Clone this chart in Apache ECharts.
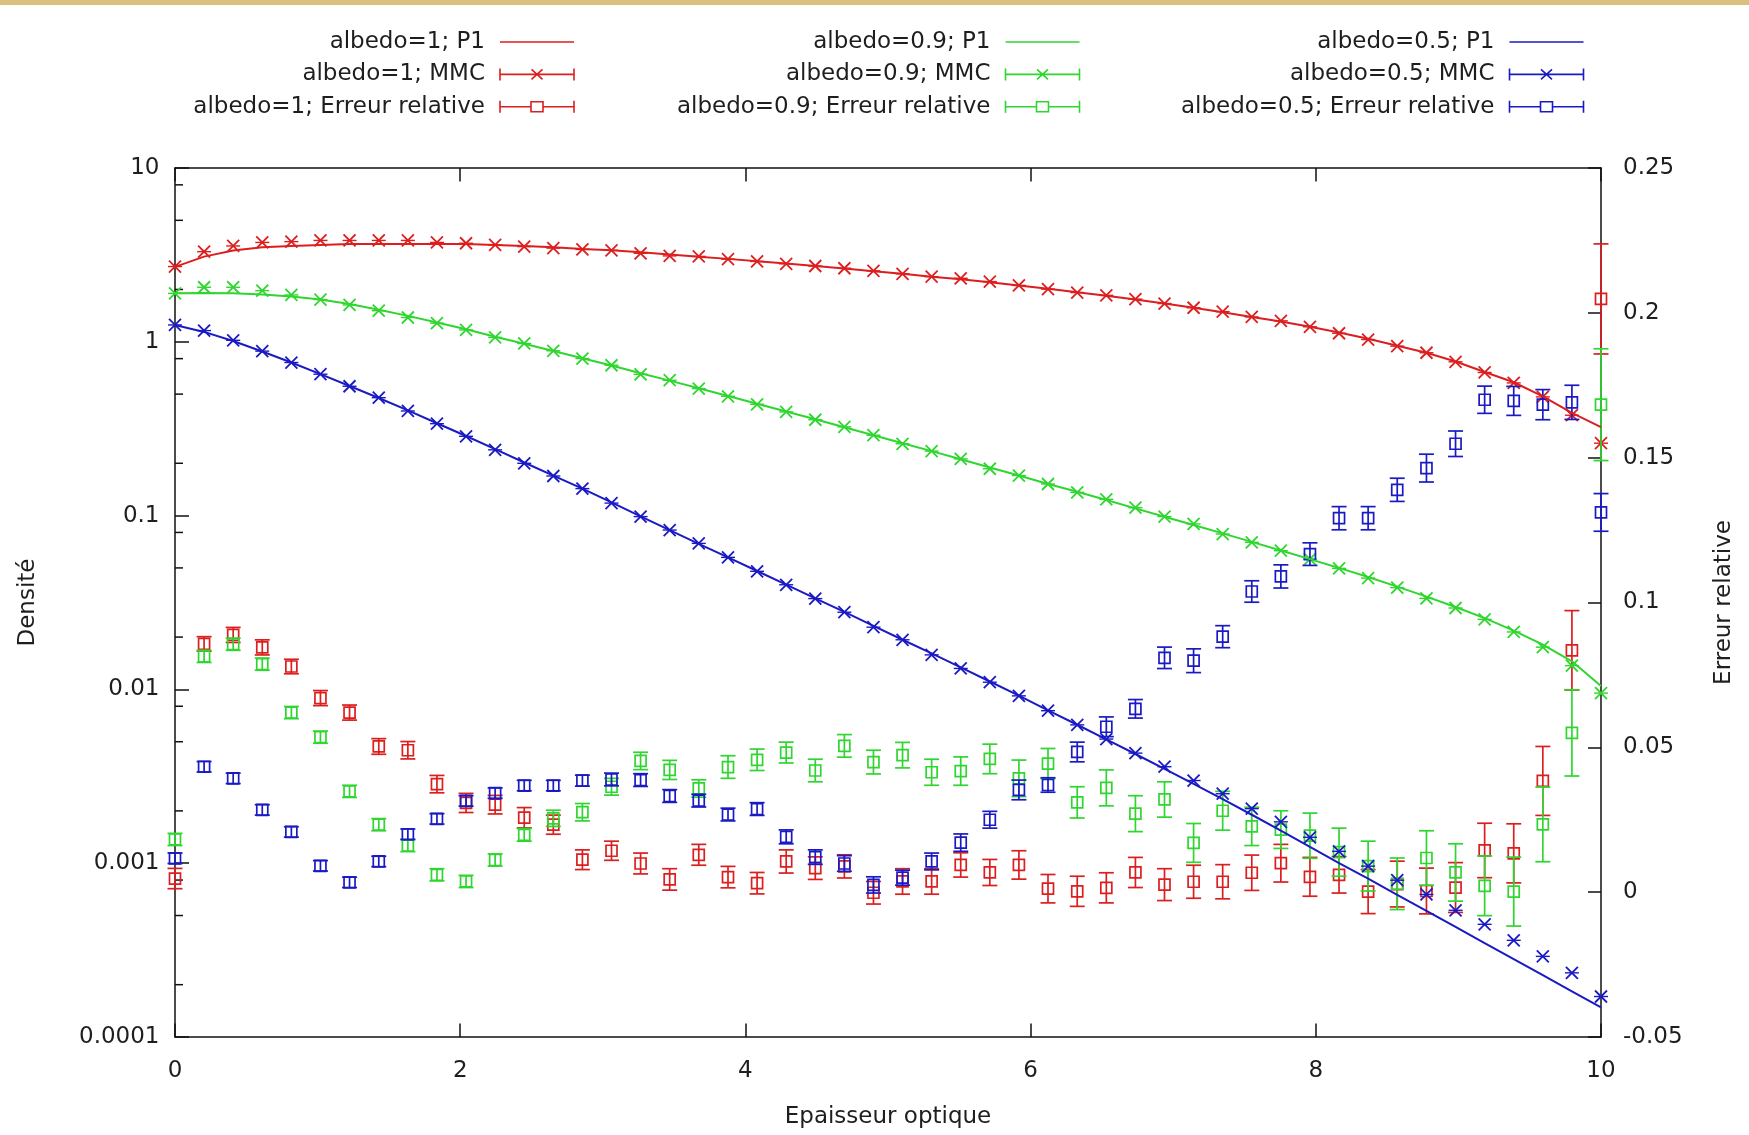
<!DOCTYPE html>
<html>
<head>
<meta charset="utf-8">
<title>Densité et erreur relative – P1 / MMC</title>
<script src="https://cdn.jsdelivr.net/npm/echarts@6/dist/echarts.min.js"></script>
<style>
  html, body { margin: 0; padding: 0; background: #ffffff; }
  #chart { width: 1749px; height: 1135px; }
</style>
</head>
<body>
<div id="chart"></div>
<script>
// Optical depth grid (50 cells from 0 to 10)
const tau = [0, 0.204, 0.408, 0.612, 0.816, 1.020, 1.224, 1.429, 1.633, 1.837,
  2.041, 2.245, 2.449, 2.653, 2.857, 3.061, 3.265, 3.469, 3.673, 3.878,
  4.082, 4.286, 4.490, 4.694, 4.898, 5.102, 5.306, 5.510, 5.714, 5.918,
  6.122, 6.327, 6.531, 6.735, 6.939, 7.143, 7.347, 7.551, 7.755, 7.959,
  8.163, 8.367, 8.571, 8.776, 8.980, 9.184, 9.388, 9.592, 9.796, 10];

// albedo = 1
const p1Albedo1 = [2.70, 3.09, 3.35, 3.50, 3.56, 3.61, 3.65, 3.65, 3.65, 3.65,
  3.65, 3.61, 3.56, 3.50, 3.42, 3.36, 3.27, 3.18, 3.09, 3.00,
  2.91, 2.82, 2.73, 2.64, 2.55, 2.46, 2.37, 2.29, 2.20, 2.11,
  2.02, 1.93, 1.84, 1.75, 1.66, 1.57, 1.48, 1.39, 1.31, 1.22,
  1.13, 1.04, 0.950, 0.865, 0.770, 0.670, 0.585, 0.485, 0.390, 0.323];
const mmcAlbedo1 = [2.71, 3.30, 3.56, 3.73, 3.77, 3.83, 3.83, 3.83, 3.83, 3.73,
  3.69, 3.61, 3.53, 3.46, 3.40, 3.36, 3.23, 3.12, 3.10, 2.99,
  2.90, 2.81, 2.73, 2.65, 2.56, 2.46, 2.37, 2.32, 2.22, 2.11,
  2.01, 1.92, 1.85, 1.76, 1.66, 1.57, 1.49, 1.39, 1.32, 1.22,
  1.12, 1.03, 0.944, 0.865, 0.767, 0.666, 0.580, 0.482, 0.378, 0.261];
const errAlbedo1 = [0.0047, 0.0857, 0.0888, 0.0845, 0.0779, 0.0670, 0.0620, 0.0503, 0.0490, 0.0373,
  0.0308, 0.0302, 0.0257, 0.0233, 0.0112, 0.0143, 0.0099, 0.0044, 0.0129, 0.0052,
  0.0031, 0.0106, 0.0083, 0.0089, -0.0002, 0.0037, 0.0037, 0.0094, 0.0068, 0.0094,
  0.0012, 0.0003, 0.0015, 0.0068, 0.0026, 0.0036, 0.0036, 0.0067, 0.0100, 0.0053,
  0.0060, 0.0002, 0.0028, 0.0004, 0.0016, 0.0144, 0.0134, 0.0384, 0.0835, 0.2048];
const errBarAlbedo1 = [0.0035, 0.0025, 0.0026, 0.0026, 0.0025, 0.0026, 0.0026, 0.0027, 0.0030, 0.0030,
  0.0033, 0.0032, 0.0035, 0.0033, 0.0034, 0.0033, 0.0036, 0.0037, 0.0036, 0.0037,
  0.0037, 0.0040, 0.0039, 0.0040, 0.0039, 0.0044, 0.0044, 0.0042, 0.0045, 0.0049,
  0.0049, 0.0052, 0.0052, 0.0052, 0.0055, 0.0057, 0.0059, 0.0061, 0.0065, 0.0067,
  0.0063, 0.0076, 0.0079, 0.0079, 0.0086, 0.0094, 0.0102, 0.0119, 0.0137, 0.0190];

// albedo = 0.9
const p1Albedo09 = [1.90, 1.91, 1.90, 1.87, 1.82, 1.75, 1.65, 1.53, 1.41, 1.29,
  1.18, 1.07, 0.975, 0.885, 0.805, 0.730, 0.660, 0.598, 0.540, 0.488,
  0.440, 0.397, 0.358, 0.322, 0.290, 0.261, 0.235, 0.211, 0.189, 0.170,
  0.152, 0.137, 0.123, 0.110, 0.0985, 0.0882, 0.0790, 0.0706, 0.0630, 0.0562,
  0.0500, 0.0443, 0.0390, 0.0342, 0.0298, 0.0257, 0.0218, 0.0181, 0.0145, 0.01045];
const mmcAlbedo09 = [1.90, 2.06, 2.06, 1.97, 1.86, 1.75, 1.63, 1.51, 1.38, 1.28,
  1.17, 1.06, 0.978, 0.888, 0.801, 0.733, 0.650, 0.601, 0.538, 0.486,
  0.437, 0.395, 0.356, 0.324, 0.290, 0.259, 0.235, 0.212, 0.186, 0.170,
  0.152, 0.136, 0.124, 0.111, 0.0987, 0.0895, 0.0783, 0.0702, 0.0628, 0.0562,
  0.0497, 0.0437, 0.0385, 0.0334, 0.0294, 0.0253, 0.0214, 0.0175, 0.0137, 0.00952];
const errAlbedo09 = [0.0182, 0.0814, 0.0856, 0.0787, 0.0620, 0.0535, 0.0348, 0.0233, 0.0161, 0.0060,
  0.0037, 0.0111, 0.0198, 0.0255, 0.0276, 0.0364, 0.0453, 0.0422, 0.0358, 0.0432,
  0.0457, 0.0482, 0.0420, 0.0505, 0.0449, 0.0473, 0.0414, 0.0418, 0.0460, 0.0393,
  0.0444, 0.0310, 0.0360, 0.0271, 0.0320, 0.0170, 0.0281, 0.0227, 0.0216, 0.0195,
  0.0138, 0.0090, 0.0029, 0.0118, 0.0068, 0.0022, 0.0002, 0.0234, 0.0550, 0.1683];
const errBarAlbedo09 = [0.0021, 0.0021, 0.0021, 0.0021, 0.0021, 0.0021, 0.0021, 0.0021, 0.0021, 0.0021,
  0.0021, 0.0021, 0.0022, 0.0028, 0.0030, 0.0029, 0.0030, 0.0033, 0.0030, 0.0039,
  0.0037, 0.0036, 0.0039, 0.0039, 0.0041, 0.0044, 0.0045, 0.0049, 0.0051, 0.0063,
  0.0052, 0.0054, 0.0062, 0.0062, 0.0061, 0.0067, 0.0067, 0.0066, 0.0065, 0.0078,
  0.0083, 0.0086, 0.0089, 0.0094, 0.0099, 0.0103, 0.0119, 0.0129, 0.0149, 0.0193];

// albedo = 0.5
const p1Albedo05 = [1.25, 1.14, 1.01, 0.880, 0.760, 0.652, 0.557, 0.475, 0.403, 0.340,
  0.287, 0.241, 0.202, 0.170, 0.143, 0.119, 0.0990, 0.0824, 0.0688, 0.0575,
  0.0480, 0.0401, 0.0334, 0.0279, 0.0232, 0.0193, 0.0161, 0.0134, 0.0111, 0.00921,
  0.00758, 0.00626, 0.00516, 0.00425, 0.00349, 0.00286, 0.00234, 0.00190, 0.00154, 0.00124,
  0.00100, 0.000814, 0.000658, 0.000532, 0.000430, 0.000347, 0.000281, 0.000227, 0.000183, 0.000148];
const mmcAlbedo05 = [1.25, 1.16, 1.02, 0.884, 0.760, 0.651, 0.555, 0.477, 0.400, 0.338,
  0.286, 0.239, 0.200, 0.169, 0.143, 0.118, 0.0987, 0.0826, 0.0692, 0.0575,
  0.0478, 0.0400, 0.0333, 0.0278, 0.0228, 0.0193, 0.0158, 0.0132, 0.0110, 0.00918,
  0.00754, 0.00625, 0.00518, 0.00430, 0.00359, 0.00299, 0.00251, 0.00206, 0.00173, 0.00141,
  0.00117, 0.000962, 0.000798, 0.000661, 0.000536, 0.000445, 0.000360, 0.000291, 0.000234, 0.000171];
const errAlbedo05 = [0.0117, 0.0433, 0.0393, 0.0284, 0.0208, 0.0091, 0.0034, 0.0106, 0.0200, 0.0253,
  0.0315, 0.0342, 0.0368, 0.0368, 0.0385, 0.0389, 0.0387, 0.0332, 0.0316, 0.0268,
  0.0287, 0.0191, 0.0121, 0.0099, 0.0025, 0.0050, 0.0106, 0.0171, 0.0250, 0.0353,
  0.0370, 0.0484, 0.0571, 0.0633, 0.0809, 0.0799, 0.0882, 0.1038, 0.1090, 0.1167,
  0.1291, 0.1291, 0.1389, 0.1464, 0.1548, 0.1700, 0.1696, 0.1683, 0.1691, 0.1311];
const errBarAlbedo05 = [0.0018, 0.0018, 0.0018, 0.0018, 0.0018, 0.0018, 0.0018, 0.0018, 0.0018, 0.0018,
  0.0018, 0.0018, 0.0018, 0.0018, 0.0019, 0.0022, 0.0022, 0.0022, 0.0022, 0.0022,
  0.0022, 0.0024, 0.0025, 0.0027, 0.0028, 0.0026, 0.0029, 0.0030, 0.0029, 0.0034,
  0.0025, 0.0034, 0.0034, 0.0032, 0.0037, 0.0041, 0.0038, 0.0037, 0.0040, 0.0039,
  0.0040, 0.0040, 0.0040, 0.0048, 0.0044, 0.0047, 0.0050, 0.0052, 0.0059, 0.0065];

// Axis ticks
const xTickValues = ['0', '2', '4', '6', '8', '10'];
const densityMinorTicks = [8, 5, 2, 0.8, 0.5, 0.2, 0.08, 0.05, 0.02,
  0.008, 0.005, 0.002, 0.0008, 0.0005, 0.0002];

const RED = '#dc1e1e';
const GREEN = '#2fd62f';
const BLUE = '#1a1ac4';
const FONT = 'DejaVu Sans';
const TEXT = '#1e1e1e';

const pairs = (ys) => tau.map((x, i) => [x, ys[i]]);
const triples = (ys, es) => tau.map((x, i) => [x, ys[i], es[i]]);

// Monte-Carlo estimate: cross marker with merged error-bar caps
function mmcItem(color) {
  return function (params, api) {
    const p = api.coord([api.value(0), api.value(1)]);
    const s = 6, w = 7;
    const st = { stroke: color, lineWidth: 1.8, fill: 'none' };
    return {
      type: 'group',
      children: [
        { type: 'line', shape: { x1: p[0] - s, y1: p[1] - s, x2: p[0] + s, y2: p[1] + s }, style: st },
        { type: 'line', shape: { x1: p[0] - s, y1: p[1] + s, x2: p[0] + s, y2: p[1] - s }, style: st },
        { type: 'line', shape: { x1: p[0] - w, y1: p[1], x2: p[0] + w, y2: p[1] }, style: { stroke: color, lineWidth: 1.4 } }
      ]
    };
  };
}

// Relative error: open square with vertical error bar and caps
function errItem(color) {
  return function (params, api) {
    const x = api.value(0), v = api.value(1), e = api.value(2);
    const c = api.coord([x, v]);
    const yTop = api.coord([x, v + e])[1];
    const yBot = api.coord([x, v - e])[1];
    const h = 5.5, cap = 7.5;
    const st = { stroke: color, lineWidth: 1.7, fill: 'none' };
    return {
      type: 'group',
      children: [
        { type: 'line', shape: { x1: c[0], y1: yTop, x2: c[0], y2: yBot }, style: st },
        { type: 'line', shape: { x1: c[0] - cap, y1: yTop, x2: c[0] + cap, y2: yTop }, style: st },
        { type: 'line', shape: { x1: c[0] - cap, y1: yBot, x2: c[0] + cap, y2: yBot }, style: st },
        { type: 'rect', shape: { x: c[0] - h, y: c[1] - h, width: 2 * h, height: 2 * h }, style: st }
      ]
    };
  };
}

// Short inward minor ticks on the log axis
function minorTickItem(params, api) {
  const p = api.coord([api.value(0), api.value(1)]);
  return { type: 'line', shape: { x1: p[0], y1: p[1], x2: p[0] + 8, y2: p[1] }, style: { stroke: '#111', lineWidth: 1.5 } };
}

const ICON_P1 = 'path://M0,0M85,16M10,8L84,8';
const ICON_MMC = 'path://M0,0M85,16M10,2L10,14M10,8L84,8M84,2L84,14M41.5,3L52.5,13M41.5,13L52.5,3';
const ICON_ERR = 'path://M0,0M85,16M10,2L10,14M10,8L41,8M53,8L84,8M84,2L84,14M41,3L53,3L53,13L41,13Z';

function legendBlock(label, color, right) {
  const st = { color: 'none', borderColor: color, borderWidth: 1.6 };
  return {
    orient: 'vertical',
    align: 'right',
    right: right,
    top: 30,
    padding: 0,
    itemGap: 8.4,
    itemWidth: 85,
    itemHeight: 16,
    selectedMode: false,
    textStyle: { fontFamily: FONT, fontSize: 23, color: TEXT, lineHeight: 24 },
    data: [
      { name: label + '; P1', icon: ICON_P1, itemStyle: st },
      { name: label + '; MMC', icon: ICON_MMC, itemStyle: st },
      { name: label + '; Erreur relative', icon: ICON_ERR, itemStyle: st }
    ]
  };
}

function groupSeries(label, color, p1, mmc, err, errBar) {
  return [
    {
      name: label + '; P1', type: 'line', xAxisIndex: 0, yAxisIndex: 0,
      data: pairs(p1), showSymbol: false, symbol: 'none',
      lineStyle: { color: color, width: 2 }, itemStyle: { color: color }
    },
    {
      name: label + '; MMC', type: 'custom', xAxisIndex: 0, yAxisIndex: 0,
      data: pairs(mmc), renderItem: mmcItem(color), itemStyle: { color: color },
      encode: { x: 0, y: 1 }
    },
    {
      name: label + '; Erreur relative', type: 'custom', xAxisIndex: 0, yAxisIndex: 1,
      data: triples(err, errBar), renderItem: errItem(color), itemStyle: { color: color },
      encode: { x: 0, y: 1 }
    }
  ];
}

const chart = echarts.init(document.getElementById('chart'), null, { renderer: 'canvas' });

const axisLabelStyle = { fontFamily: FONT, fontSize: 23, color: TEXT };
const axisLine = { show: true, onZero: false, lineStyle: { color: '#111', width: 1.5 } };
const tickStyle = { color: '#111', width: 1.5 };

chart.setOption({
  animation: false,
  backgroundColor: '#ffffff',
  textStyle: { fontFamily: FONT },
  graphic: [
    { type: 'rect', left: 0, top: 0, shape: { width: 1749, height: 5 }, style: { fill: '#dcbf7e' } }
  ],
  legend: [
    legendBlock('albedo=1', RED, 1171.5),
    legendBlock('albedo=0.9', GREEN, 666),
    legendBlock('albedo=0.5', BLUE, 162)
  ],
  grid: { left: 175, top: 168, width: 1426, height: 869, outerBoundsMode: 'none' },
  xAxis: [
    {
      type: 'value', position: 'bottom', min: 0, max: 10, interval: 2,
      name: 'Epaisseur optique', nameLocation: 'middle', nameGap: 69, nameMoveOverlap: false,
      nameTextStyle: { fontFamily: FONT, fontSize: 23, color: TEXT },
      axisLine: axisLine,
      axisTick: { show: true, inside: true, length: 13.5, lineStyle: tickStyle },
      axisLabel: Object.assign({ margin: 23, formatter: (v) => xTickValues[Math.round(v / 2)] }, axisLabelStyle),
      splitLine: { show: false }
    },
    {
      type: 'value', position: 'top', min: 0, max: 10, interval: 2,
      axisLine: axisLine,
      axisTick: { show: true, inside: true, length: 13.5, lineStyle: tickStyle },
      axisLabel: { show: false },
      splitLine: { show: false }
    }
  ],
  yAxis: [
    {
      type: 'log', logBase: 10, min: 0.0001, max: 10, position: 'left',
      name: 'Densité', nameLocation: 'middle', nameRotate: 90, nameGap: 135, nameMoveOverlap: false,
      nameTextStyle: { fontFamily: FONT, fontSize: 23, color: TEXT },
      axisLine: axisLine,
      axisTick: { show: true, inside: true, length: 14, lineStyle: tickStyle },
      axisLabel: Object.assign({ margin: 15.5, padding: [10, 0, 0, 0], formatter: (v) => String(+Number(v).toPrecision(6)) }, axisLabelStyle),
      splitLine: { show: false }
    },
    {
      type: 'value', min: -0.05, max: 0.25, interval: 0.05, position: 'right',
      name: 'Erreur relative', nameLocation: 'middle', nameRotate: 90, nameGap: 112, nameMoveOverlap: false,
      nameTextStyle: { fontFamily: FONT, fontSize: 23, color: TEXT },
      axisLine: axisLine,
      axisTick: { show: true, inside: true, length: 13, lineStyle: tickStyle },
      axisLabel: Object.assign({ margin: 22, padding: [10, 0, 0, 0], formatter: (v) => String(+Number(v).toFixed(4)) }, axisLabelStyle),
      splitLine: { show: false }
    }
  ],
  series: [
    {
      name: 'densityMinorTicks', type: 'custom', xAxisIndex: 0, yAxisIndex: 0,
      data: densityMinorTicks.map((v) => [0, v]), renderItem: minorTickItem,
      encode: { x: 0, y: 1 }, silent: true
    }
  ].concat(
    groupSeries('albedo=1', RED, p1Albedo1, mmcAlbedo1, errAlbedo1, errBarAlbedo1),
    groupSeries('albedo=0.9', GREEN, p1Albedo09, mmcAlbedo09, errAlbedo09, errBarAlbedo09),
    groupSeries('albedo=0.5', BLUE, p1Albedo05, mmcAlbedo05, errAlbedo05, errBarAlbedo05)
  )
});
</script>
</body>
</html>
